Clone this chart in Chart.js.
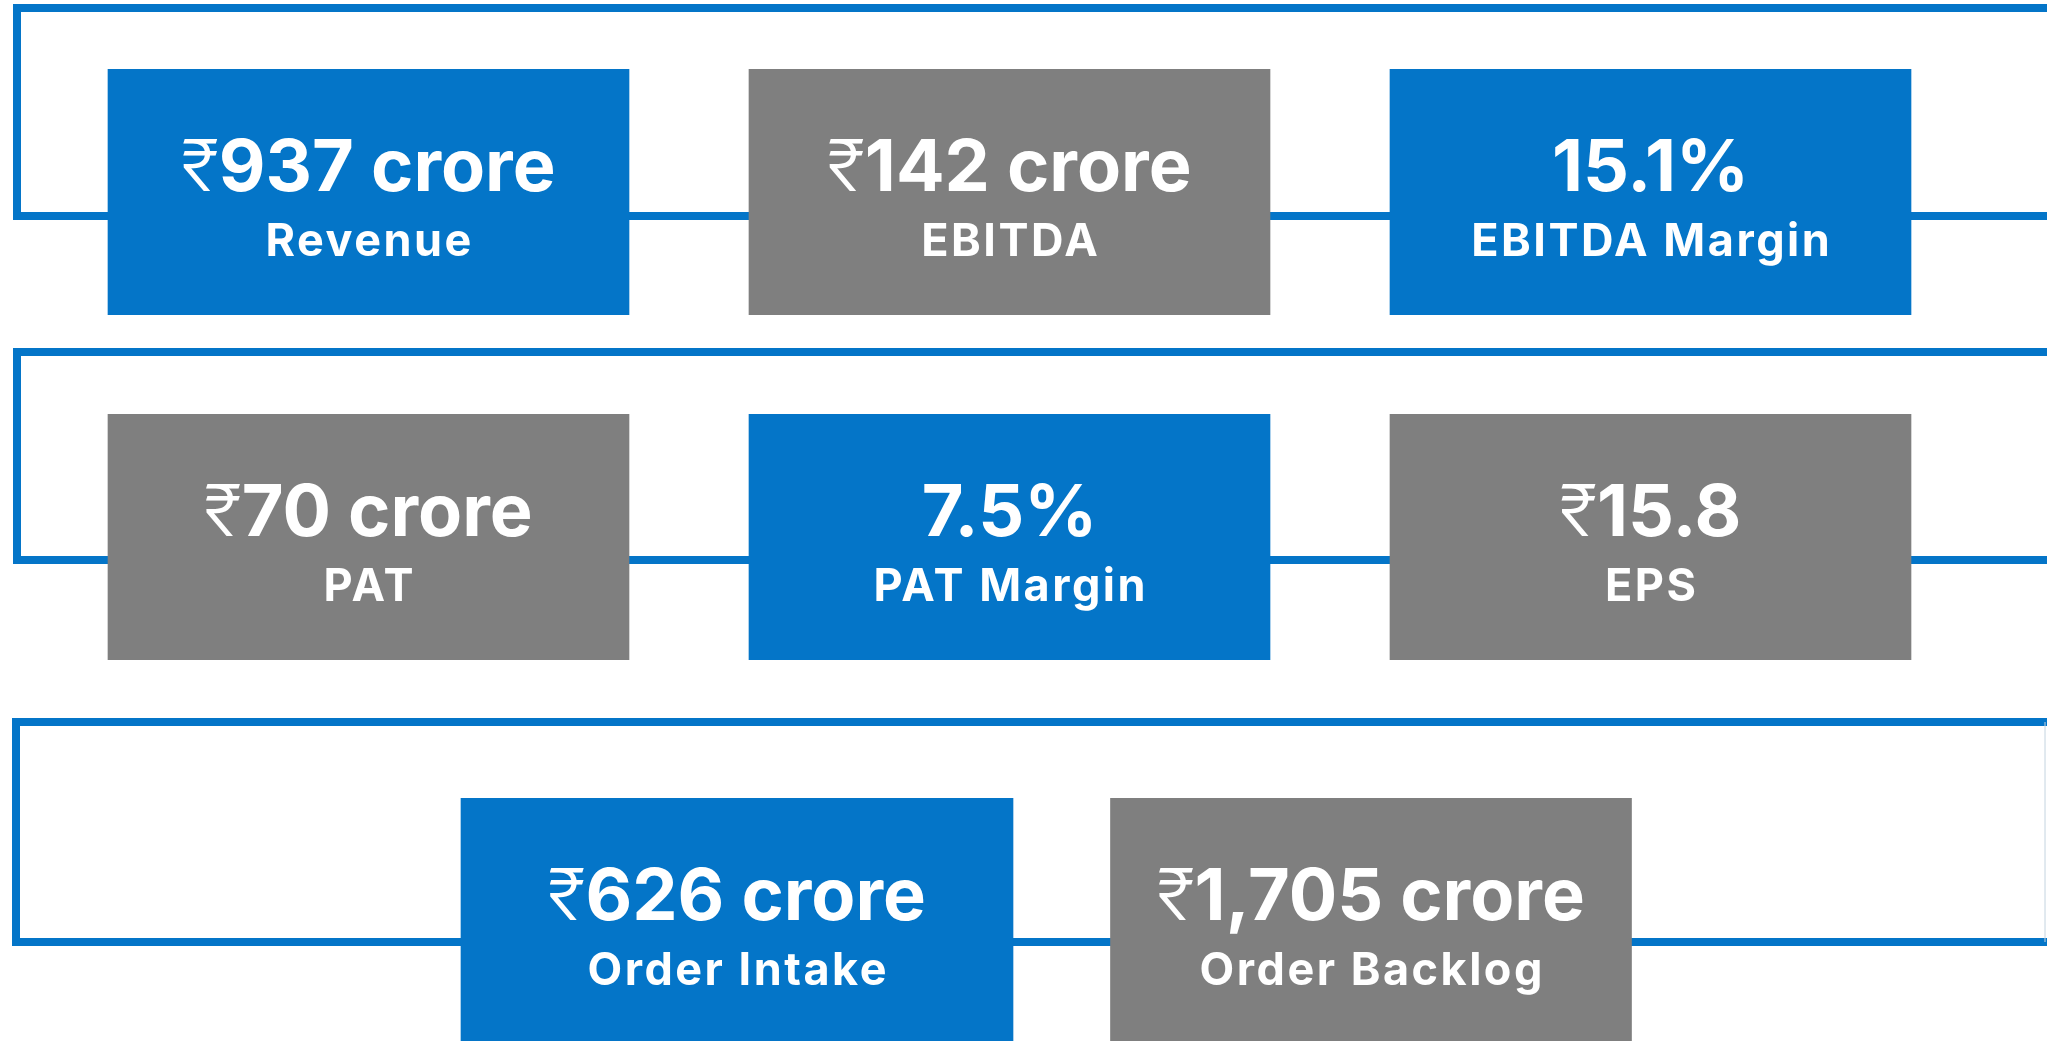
<!DOCTYPE html>
<html>
<head>
<meta charset="utf-8">
<script src="https://cdn.jsdelivr.net/npm/chart.js@4"></script>
<style>
html,body{margin:0;padding:0;background:#fff;overflow:hidden}
body{width:2047px;height:1041px;position:relative}
.row{position:absolute;left:0;width:2047px}
</style>
</head>
<body>
<div class="row" style="top:0;height:330px"><canvas id="row1"></canvas></div>
<div class="row" style="top:330px;height:340px"><canvas id="row2"></canvas></div>
<div class="row" style="top:680px;height:370px"><canvas id="row3"></canvas></div>
<script>
// card data
const categories = ['Revenue', 'EBITDA', 'EBITDA Margin', 'PAT', 'PAT Margin', 'EPS', 'Order Intake', 'Order Backlog']
const values = [937, 142, 15.1, 70, 7.5, 15.8, 626, 1705]
const prefixes = ['₹', '₹', '', '₹', '', '₹', '₹', '₹']
const suffixes = [' crore', ' crore', '%', ' crore', '%', '', ' crore', ' crore']
const rowSizes = [3, 3, 2]
const tiles = [1, 1, 1, 1, 1, 1, 1, 1] // each card fills one full tile

const BLUE = '#0475C8'
const GREY = '#7F7F7F'
const VALUE_FONT = 'bold 72px Inter'
const RUPEE_FONT = '300 72px Inter'
const LABEL_FONT = 'bold 45px Inter'

// per row: chart area padding, outline frame, card widths
const rowLayout = [
  {padding: {top: 69, bottom: 15, left: 48, right: 76}, frame: {top: 8, bottom: 216, left: 17}, widths: [521, 521, 521]},
  {padding: {top: 84, bottom: 10, left: 48, right: 76}, frame: {top: 22, bottom: 230, left: 17}, widths: [521, 521, 521]},
  {padding: {top: 118, bottom: 6, left: 420, right: 359}, frame: {top: 42, bottom: 262, left: 16, edge: 2045}, widths: [552, 521]}
]

function numText(i) {
  return values[i].toLocaleString('en-IN', {maximumFractionDigits: 1}) + suffixes[i]
}

function framePlugin(f) {
  return {
    id: 'frame',
    beforeDatasetsDraw(chart) {
      const ctx = chart.ctx
      ctx.save()
      ctx.strokeStyle = BLUE
      ctx.lineWidth = 8
      ctx.lineJoin = 'miter'
      ctx.beginPath()
      ctx.moveTo(chart.width + 20, f.top)
      ctx.lineTo(f.left, f.top)
      ctx.lineTo(f.left, f.bottom)
      ctx.lineTo(chart.width + 20, f.bottom)
      ctx.stroke()
      if (f.edge) {
        ctx.lineWidth = 1
        ctx.strokeStyle = '#c4d4e0'
        ctx.beginPath()
        ctx.moveTo(f.edge, f.top)
        ctx.lineTo(f.edge, f.bottom)
        ctx.stroke()
      }
      ctx.restore()
    }
  }
}

const textPlugin = {
  id: 'cardText',
  afterDatasetsDraw(chart) {
    const ctx = chart.ctx
    ctx.save()
    ctx.fillStyle = '#fff'
    ctx.textBaseline = 'alphabetic'
    chart.data.datasets.forEach((ds, d) => {
      const meta = chart.getDatasetMeta(d)
      const idx = ds.data.findIndex(v => v != null)
      const bar = meta.data[idx]
      const top = bar.y
      const g = ds.card
      // rupee sign is lighter than the figures
      ctx.letterSpacing = '0px'
      ctx.font = RUPEE_FONT
      const pw = prefixes[g] ? ctx.measureText(prefixes[g]).width : 0
      ctx.font = VALUE_FONT
      const nw = ctx.measureText(numText(g)).width
      let x = bar.x - (pw + nw) / 2
      ctx.textAlign = 'left'
      if (pw) {
        ctx.font = RUPEE_FONT
        ctx.fillText(prefixes[g], x, top + 122)
      }
      ctx.font = VALUE_FONT
      ctx.fillText(numText(g), x + pw, top + 122)
      // label: wide spacing like the original face
      ctx.font = LABEL_FONT
      ctx.letterSpacing = '2.5px'
      const lw = ctx.measureText(categories[g]).width - 2.5
      ctx.fillText(categories[g], bar.x - lw / 2, top + 187)
    })
    ctx.restore()
  }
}

let start = 0
rowSizes.forEach((n, r) => {
  const L = rowLayout[r]
  const labels = categories.slice(start, start + n)
  const datasets = []
  for (let i = 0; i < n; i++) {
    const g = start + i
    datasets.push({
      data: labels.map((_, j) => j == i ? tiles[g] : null),
      backgroundColor: g % 2 ? GREY : BLUE,
      barThickness: L.widths[i],
      borderWidth: 0,
      card: g
    })
  }
  new Chart(document.getElementById('row' + (r + 1)), {
    type: 'bar',
    data: {labels, datasets},
    options: {
      responsive: true,
      maintainAspectRatio: false,
      animation: false,
      skipNull: true,
      layout: {padding: L.padding},
      plugins: {legend: {display: false}, tooltip: {enabled: false}},
      scales: {
        x: {display: false, offset: true},
        y: {display: false, min: 0, max: 1}
      }
    },
    plugins: [framePlugin(L.frame), textPlugin]
  })
  start += n
})
</script>
</body>
</html>
